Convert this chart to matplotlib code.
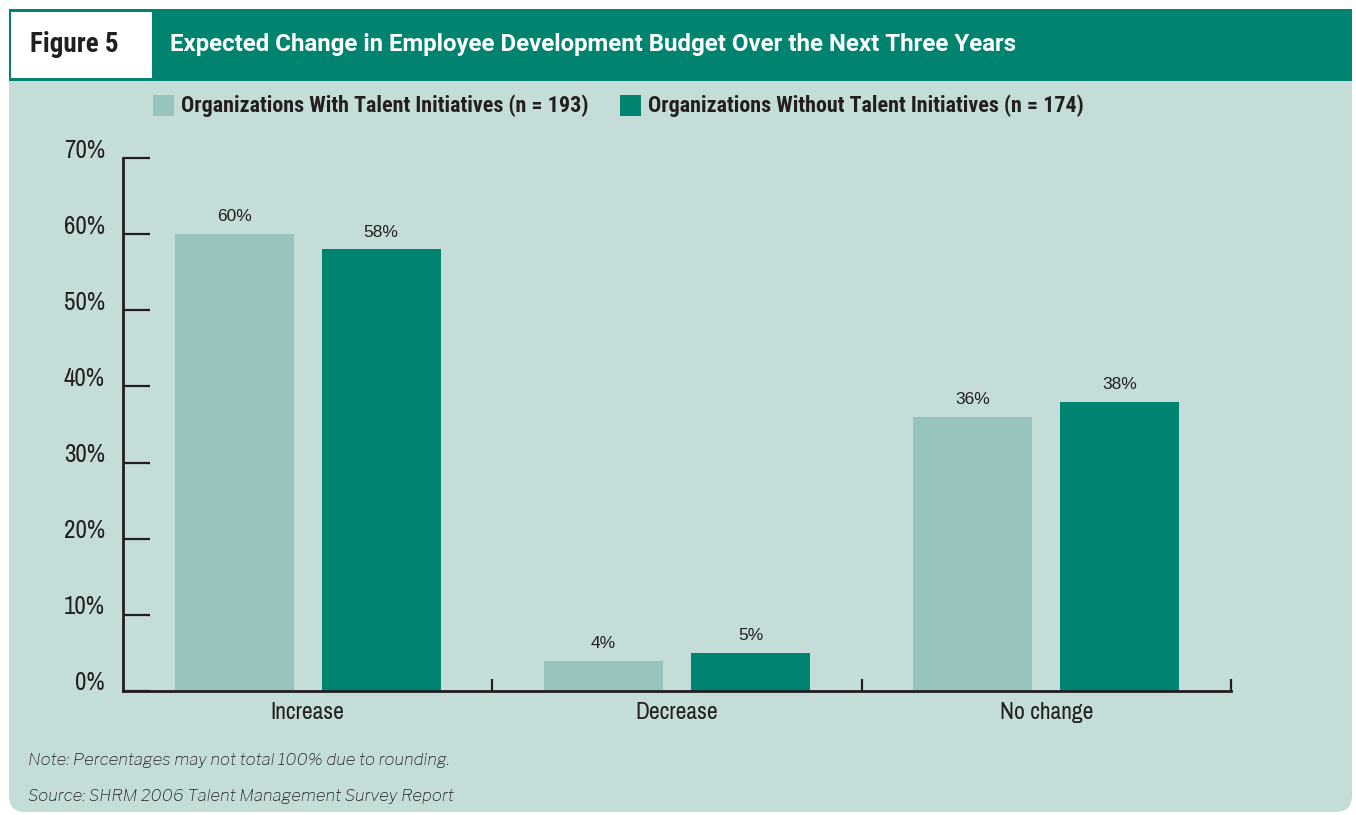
import matplotlib
matplotlib.use("Agg")
import matplotlib.pyplot as plt
from matplotlib.patches import Rectangle, FancyBboxPatch
from matplotlib.transforms import ScaledTranslation
import numpy as np

# Survey data
categories = ["Increase", "Decrease", "No change"]
series_names = ["Organizations With Talent Initiatives (n = 193)",
                "Organizations Without Talent Initiatives (n = 174)"]
with_talent = [60, 4, 36]
without_talent = [58, 5, 38]
y_ticks = [0, 10, 20, 30, 40, 50, 60, 70]
y_tick_labels = ["0%", "10%", "20%", "30%", "40%", "50%", "60%", "70%"]

title = "Expected Change in Employee Development Budget Over the Next Three Years"
fig_label = "Figure 5"
note = "Note: Percentages may not total 100% due to rounding."
source = "Source: SHRM 2006 Talent Management Survey Report"

TEAL = "#00836F"
LIGHT = "#96C3BC"
PANEL = "#C4DDD9"
INK = "#231F20"
NARROW = ["Archivo Narrow", "DejaVu Sans"]
BOLDC = ["Roboto Condensed", "DejaVu Sans"]
WIDE = ["Roboto", "DejaVu Sans"]
SANS = ["Liberation Sans", "DejaVu Sans"]
REG = ["Libre Franklin", "DejaVu Sans"]

W, H = 1356, 815
fig = plt.figure(figsize=(W / 100, H / 100), dpi=100)
fig.patch.set_facecolor("white")


def px(x, y):
    # pixel coords (top-left origin) -> figure fraction
    return x / W, 1 - y / H


# background panel with rounded bottom corners, header band on top
panel = FancyBboxPatch(px(9, 812), (1352 - 9) / W, (812 - 60) / H,
                       boxstyle="round,pad=0,rounding_size=0.012",
                       transform=fig.transFigure, facecolor=PANEL,
                       edgecolor="none", zorder=-3, mutation_aspect=W / H)
fig.patches.append(panel)
fig.patches.append(Rectangle(px(9, 81), (1352 - 9) / W, (81 - 9) / H,
                             transform=fig.transFigure, facecolor=TEAL,
                             edgecolor="none", zorder=-2))
fig.patches.append(Rectangle(px(11, 78), (152 - 11) / W, (78 - 12) / H,
                             transform=fig.transFigure, facecolor="white",
                             edgecolor="none", zorder=-1))

fig.text(*px(30, 45), fig_label, family=BOLDC, fontsize=19.5, weight="bold",
         color=INK, va="center", ha="left")
fig.text(*px(170, 45), title, family=WIDE, fontsize=17.3, weight="bold",
         color="white", va="center", ha="left")

# legend
for x0, col, name in [(153, LIGHT, series_names[0]), (620, TEAL, series_names[1])]:
    fig.patches.append(Rectangle(px(x0, 116), 21 / W, 21 / H,
                                 transform=fig.transFigure, facecolor=col,
                                 edgecolor="none", zorder=-1))
    fig.text(*px(x0 + 28, 106), name, family=BOLDC, fontsize=15.8,
             weight="bold", color=INK, va="center", ha="left")

fig.text(*px(28, 761), note, family=REG, fontsize=12, style="italic",
         color=INK, va="center", ha="left")
fig.text(*px(28, 796), source, family=REG, fontsize=12, style="italic",
         color=INK, va="center", ha="left")

# chart axes
x0p, x1p, y0p, y1p = 123, 1231, 691, 158
ax = fig.add_axes([x0p / W, 1 - y0p / H, (x1p - x0p) / W, (y0p - y1p) / H])
ax.set_facecolor("none")
ax.set_zorder(2)

x = np.arange(len(categories))
bw = 0.322
off = 0.199
b1 = ax.bar(x - off, with_talent, bw, color=LIGHT, zorder=2)
b2 = ax.bar(x + off, without_talent, bw, color=TEAL, zorder=2)
for bars, vals in [(b1, with_talent), (b2, without_talent)]:
    for rect, v in zip(bars, vals):
        ax.annotate(f"{v}%", (rect.get_x() + rect.get_width() / 2, v),
                    xytext=(0, 7), textcoords="offset points",
                    ha="center", va="bottom", family=SANS, fontsize=12.5,
                    color=INK)

ax.set_xlim(-0.5, 2.5)
ax.set_ylim(0, 70)
for s in ["top", "right"]:
    ax.spines[s].set_visible(False)
for s in ["left", "bottom"]:
    ax.spines[s].set_color(INK)
    ax.spines[s].set_linewidth(2)

ax.set_yticks(y_ticks)
ax.set_yticklabels(y_tick_labels, family=NARROW, fontsize=18, color=INK)
ax.tick_params(axis="y", direction="in", length=19.5, width=1.6,
               color=INK, pad=13)
for lab in ax.get_yticklabels():
    lab.set_transform(lab.get_transform() +
                      ScaledTranslation(0, 0.1, fig.dpi_scale_trans))

ax.set_xticks(x)
ax.set_xticklabels(categories, family=NARROW, fontsize=17, color=INK)
ax.tick_params(axis="x", which="major", length=0, pad=8)
ax.set_xticks([0.5, 1.5, 2.5], minor=True)
ax.tick_params(axis="x", which="minor", direction="in", length=9,
               width=1.6, color=INK)

fig.savefig("out.png", dpi=100, facecolor="white")
